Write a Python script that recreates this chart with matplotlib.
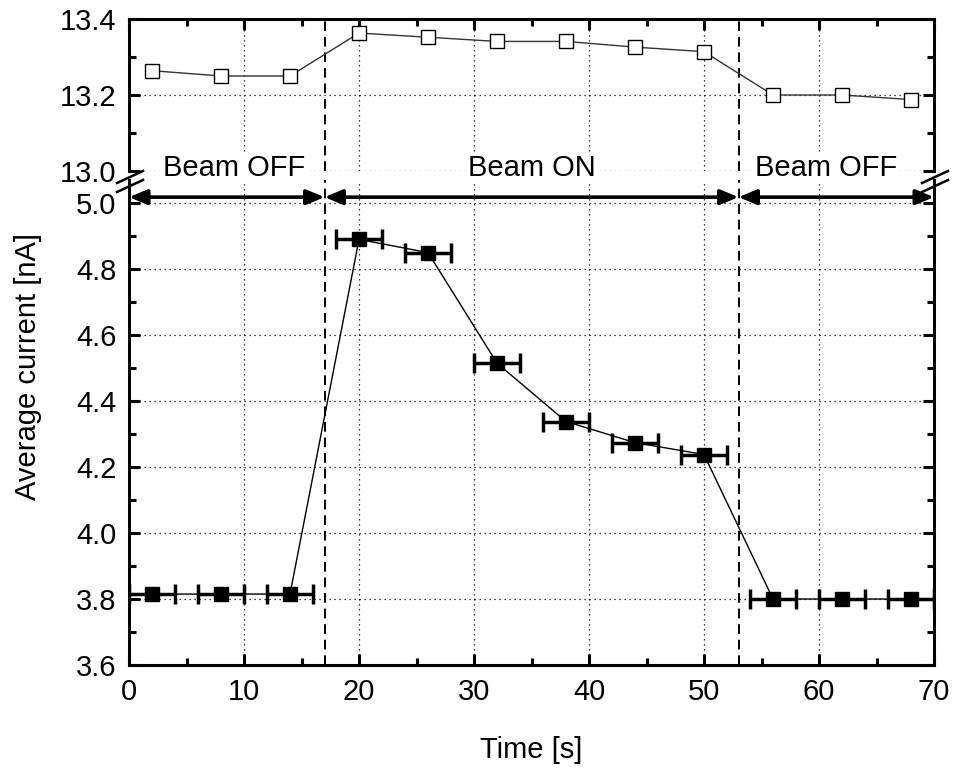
import numpy as np
import matplotlib
matplotlib.use('Agg')
import matplotlib.pyplot as plt
from matplotlib.lines import Line2D
from matplotlib.ticker import MultipleLocator

plt.rcParams['font.family'] = ['Liberation Sans', 'DejaVu Sans']
plt.rcParams['font.size'] = 21

# data
time = [2, 8, 14, 20, 26, 32, 38, 44, 50, 56, 62, 68]
time_err = [2] * 12
current_top = [13.264, 13.25, 13.25, 13.363, 13.352, 13.341, 13.341,
               13.326, 13.314, 13.2, 13.2, 13.188]
current_bot = [3.815, 3.815, 3.815, 4.89, 4.85, 4.515, 4.338,
               4.274, 4.238, 3.80, 3.80, 3.80]
beam_edges = [0, 17, 53, 70]
beam_labels = ['Beam OFF', 'Beam ON', 'Beam OFF']
label_x = [9.1, 35, 60.6]

W, H = 956, 769
fig = plt.figure(figsize=(W / 100, H / 100), dpi=100)

def fx(px):
    return px / W

def fy(py):
    return 1 - py / H

left, right = fx(129), fx(934)
ax_top = fig.add_axes([left, fy(171), right - left, fy(19) - fy(171)])
ax_bot = fig.add_axes([left, fy(665), right - left, fy(180) - fy(665)])

for ax in (ax_top, ax_bot):
    ax.set_xlim(0, 70)
    ax.xaxis.set_major_locator(MultipleLocator(10))
    ax.xaxis.set_minor_locator(MultipleLocator(5))
    ax.yaxis.set_major_locator(MultipleLocator(0.2))
    ax.yaxis.set_minor_locator(MultipleLocator(0.1))
    ax.grid(True, which='major', linestyle=(0, (1, 3)), color='black', lw=0.9)
    for s in ax.spines.values():
        s.set_linewidth(2.2)
    ax.tick_params(which='both', direction='in', width=2.2, top=True,
                   right=True, labelsize=21, pad=9)
    ax.tick_params(which='major', length=8)
    ax.tick_params(which='minor', length=5)
    for xv in beam_edges[1:3]:
        ax.axvline(xv, color='black', ls=(0, (5, 3)), lw=1.4, zorder=2)

ax_top.set_ylim(13.0, 13.4)
ax_top.spines['bottom'].set_visible(False)
ax_top.tick_params(which='both', bottom=False, labelbottom=False)
ax_top.yaxis.set_major_formatter(plt.FuncFormatter(lambda v, p: '%.1f' % v))
ax_top.plot(time, current_top, color='#333333', lw=1.0, marker='s', ms=10,
            mfc='white', mec='black', mew=1.0, zorder=4, clip_on=False)

ax_bot.set_ylim(3.6, 5.07)
ax_bot.spines['top'].set_visible(False)
ax_bot.tick_params(which='both', top=False)
ax_bot.set_yticks(np.arange(3.6, 5.01, 0.2))
ax_bot.yaxis.set_major_formatter(plt.FuncFormatter(lambda v, p: '%.1f' % v))
ax_bot.plot(time, current_bot, color='black', lw=1.0, zorder=4)
ax_bot.errorbar(time, current_bot, xerr=time_err, fmt='none', ecolor='black',
                elinewidth=2.5, capsize=7, capthick=2.5, zorder=5)
ax_bot.plot(time, current_bot, ls='none', marker='s', ms=10, color='black',
            zorder=6)

# double arrows for beam periods
for i in range(3):
    ax_bot.annotate('', xy=(beam_edges[i], 5.018), xytext=(beam_edges[i + 1], 5.018),
                    arrowprops=dict(arrowstyle='<|-|>,head_length=0.6,head_width=0.25',
                                    color='black', lw=2.6,
                                    mutation_scale=18, shrinkA=0, shrinkB=0),
                    annotation_clip=False, zorder=7)
    ax_top.text(label_x[i], 13.008, beam_labels[i], ha='center', va='center',
                fontsize=21, clip_on=False, zorder=8,
                bbox=dict(facecolor='white', edgecolor='none', pad=1))

# axis break marks
for x0 in (117, 922):
    for dy in (0, 9):
        fig.add_artist(Line2D([fx(x0), fx(x0 + 26)], [fy(183 + dy), fy(171 + dy)],
                              color='black', lw=1.8))

ax_bot.set_xlabel('Time [s]', fontsize=21, labelpad=22)
fig.text(fx(28), fy(366), 'Average current [nA]', rotation=90, ha='center',
         va='center', fontsize=21)

plt.savefig('out.png', dpi=100)
